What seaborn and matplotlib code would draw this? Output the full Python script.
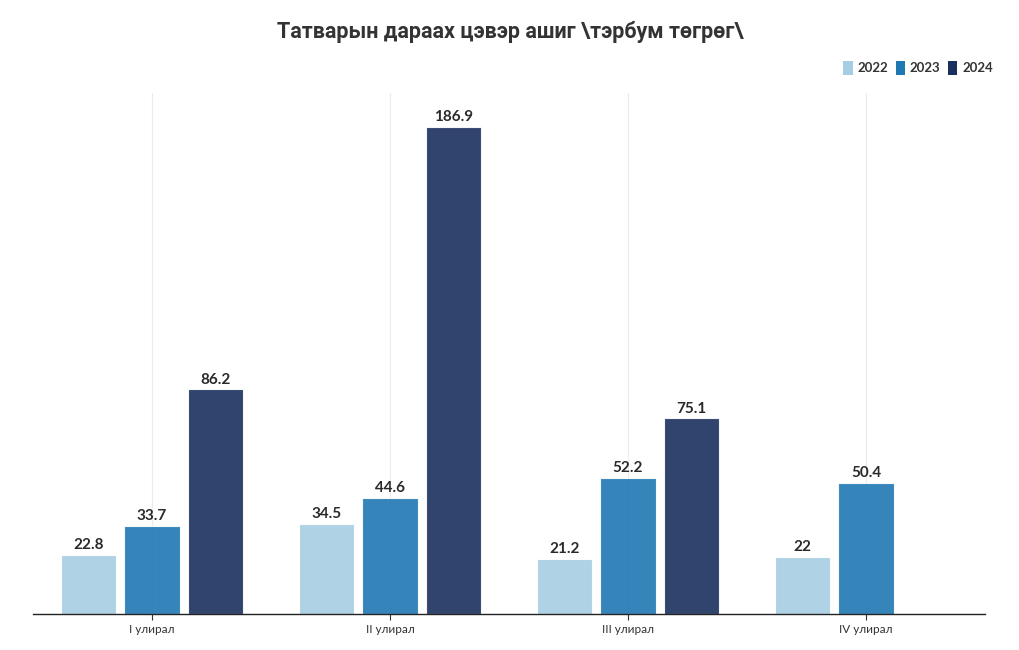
import pandas as pd
import seaborn as sns
import matplotlib.pyplot as plt
from matplotlib.patches import Patch

# Data
quarters = ['I улирал', 'II улирал', 'III улирал', 'IV улирал']
years = ['2022', '2023', '2024']
v2022 = [22.8, 34.5, 21.2, 22.0]
v2023 = [33.7, 44.6, 52.2, 50.4]
v2024 = [86.2, 186.9, 75.1, None]

colors = ['#a6cee3', '#1f78b4', '#1a2f5e']

df = pd.DataFrame({'quarter': quarters * 3,
                   'year': [y for y in years for _ in quarters],
                   'value': v2022 + v2023 + v2024})

sns.set_style('white')
plt.rcParams['font.family'] = ['Lato', 'DejaVu Sans']

fig = plt.figure(figsize=(10.2, 6.5), dpi=100)
ax = fig.add_axes([33 / 1020, 1 - 614 / 650, 952 / 1020, 521 / 650])

sns.barplot(data=df, x='quarter', y='value', hue='year', order=quarters,
            hue_order=years, palette=colors, width=0.8, gap=0.13, saturation=1,
            alpha=0.9, edgecolor='white', linewidth=0.8, legend=False, ax=ax)

for c in ax.containers:
    ax.bar_label(c, labels=[f'{v:g}' for v in c.datavalues], padding=2,
                 fontsize=11, fontweight='bold', color='#2a2a2a')

ax.set_ylim(0, 200)
ax.set_xlim(-0.5, 3.5)
ax.set_yticks([])
ax.set_xlabel('')
ax.set_ylabel('')
for x in range(len(quarters)):
    ax.axvline(x, color='#ececec', linewidth=0.8, zorder=0)
for s in ['top', 'right', 'left']:
    ax.spines[s].set_visible(False)
ax.spines['bottom'].set_color('#222222')
ax.spines['bottom'].set_linewidth(1)
ax.tick_params(axis='x', length=4, width=0.8, color='#333333',
               labelsize=8.5, labelcolor='#333333', bottom=True, pad=3)

fig.text(0.5, 1 - 32 / 650, 'Татварын дараах цэвэр ашиг \\тэрбум төгрөг\\',
         ha='center', va='center', fontsize=15.5, fontweight='bold',
         color='#333333', family=['Roboto', 'DejaVu Sans'])

handles = [Patch(facecolor=c, edgecolor='none', label=y) for c, y in zip(colors, years)]
fig.legend(handles=handles, loc='center right', bbox_to_anchor=(0.985, 1 - 68 / 650),
           ncol=3, frameon=False, handlelength=0.7, handleheight=1.2,
           handletextpad=0.35, columnspacing=0.6,
           prop={'size': 9.5, 'weight': 'bold'}, labelcolor='#333333')

plt.savefig('out.png', dpi=100)
